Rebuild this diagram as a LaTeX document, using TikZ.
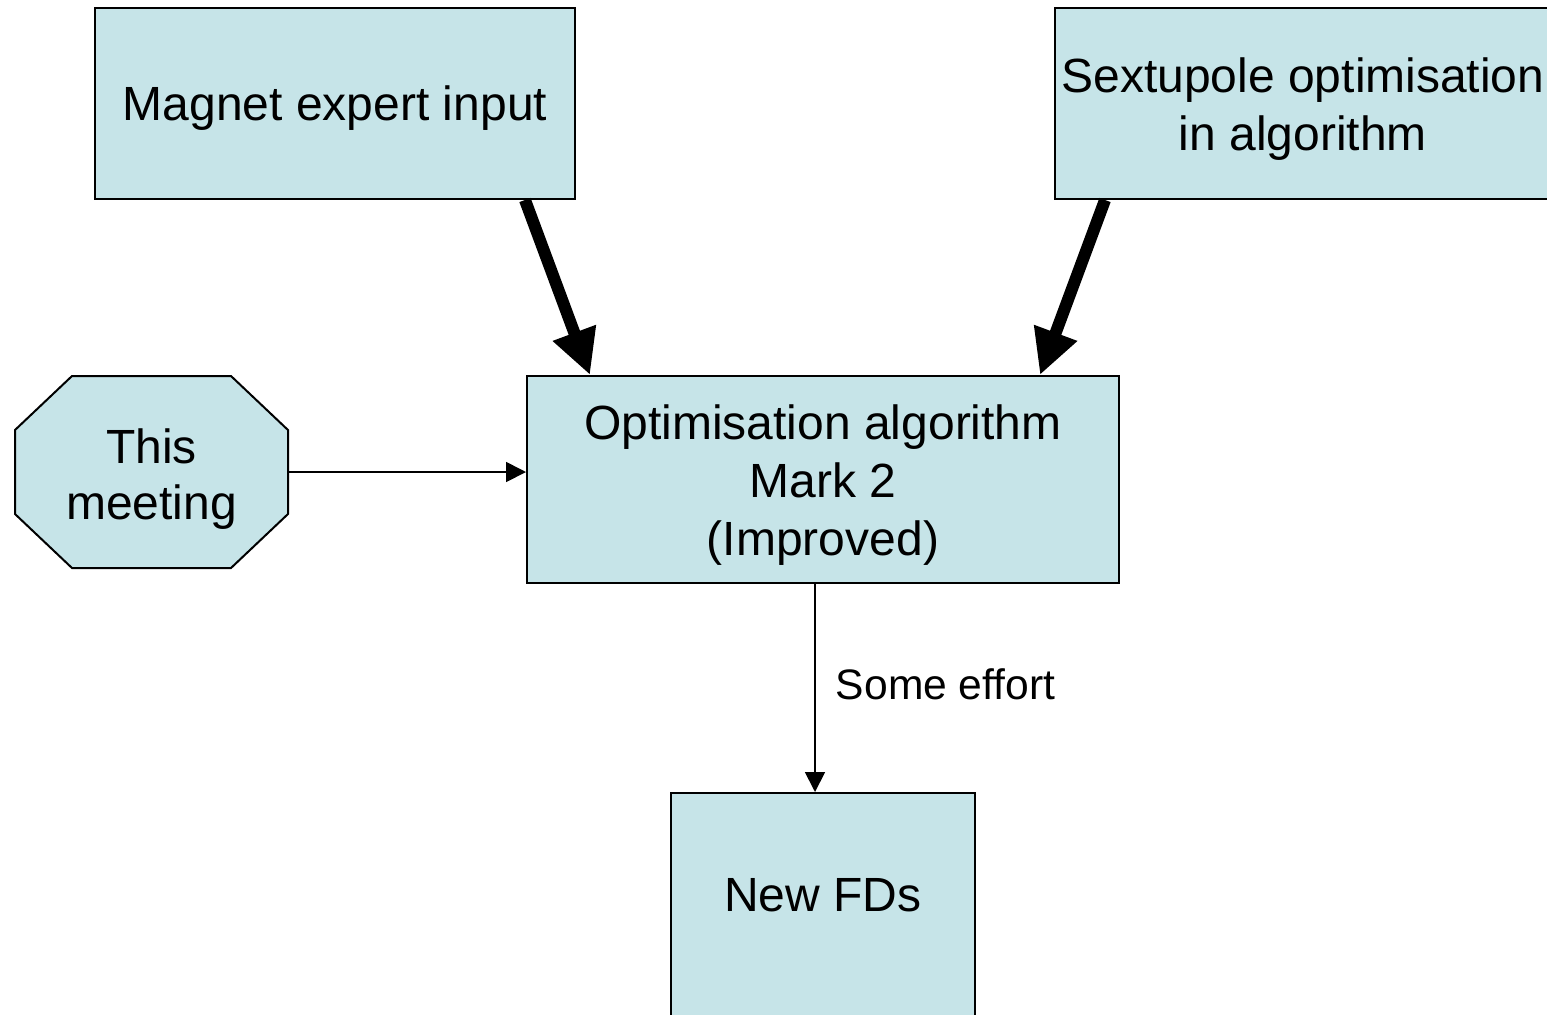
\documentclass[tikz,border=0pt]{standalone}
\usepackage{fontspec}
\setmainfont{Liberation Sans}
\usetikzlibrary{arrows.meta,calc}
\definecolor{boxfill}{RGB}{198,228,232}
% a taller first line sets a text block slightly lower in its shape
\newcommand{\lowstrut}[1][22.6pt]{\rule{0pt}{#1}}
\begin{document}
\begin{tikzpicture}[x=0.5pt,y=-0.5pt,
  box/.style={draw=black, line width=1pt, fill=boxfill, inner sep=0pt,
    align=center, font=\fontsize{24}{29}\selectfont},
  bigarrow/.style={line width=6pt, -{Triangle[length=22.5pt,width=21.5pt]}},
  smallarrow/.style={line width=0.9pt, -{Triangle[length=10pt,width=10pt]}},
  edgelabel/.style={inner sep=0pt, font=\fontsize{21.3}{25}\selectfont}]

\useasboundingbox (0,0) rectangle (1547,1014);
\clip (0,0) rectangle (1547,1014);

% input boxes
\node[box, minimum width=240pt, minimum height=95.5pt] (magnet) at (335,103.5)
  {\lowstrut[21.6pt]Magnet expert input};
\node[box, minimum width=248pt, minimum height=95.5pt] (sext) at (1303,103.5)
  {\lowstrut Sextupole optimisation\\in algorithm};

% octagon
\coordinate (mc) at (151.5,472);
\filldraw[draw=black, line width=1pt, fill=boxfill]
  ($(mc)+(-79.5,-96)$) -- ($(mc)+(79.5,-96)$) -- ($(mc)+(136.5,-42)$)
  -- ($(mc)+(136.5,42)$) -- ($(mc)+(79.5,96)$) -- ($(mc)+(-79.5,96)$)
  -- ($(mc)+(-136.5,42)$) -- ($(mc)+(-136.5,-42)$) -- cycle;
\node[align=center, inner sep=0pt, minimum width=136.5pt, minimum height=96pt,
  font=\fontsize{24}{28}\selectfont] (meet) at (mc) {\lowstrut[24.5pt]This\\meeting};

% central box
\node[box, minimum width=296pt, minimum height=103.5pt] (algo) at (823,479.5)
  {\lowstrut Optimisation algorithm\\Mark 2\\(Improved)};

% output box
\node[box, anchor=north, minimum width=152pt, text height=59pt, text depth=55pt]
  (fds) at (823,792) {New FDs};

% connectors
\draw[bigarrow] ($(magnet.south)+(190,0)$) -- ($(algo.north west)+(64,0)$);
\draw[bigarrow] ($(sext.south)+(-198,0)$) -- ($(algo.north east)+(-80,0)$);
\draw[smallarrow] (meet.east) -- (meet.east -| algo.west);
\coordinate (effstart) at ($(algo.south)+(-8,0)$);
\draw[smallarrow] (effstart) -- (effstart |- fds.north)
  node[edgelabel, pos=0.48, anchor=west, xshift=10pt] {Some effort};
\end{tikzpicture}
\end{document}
